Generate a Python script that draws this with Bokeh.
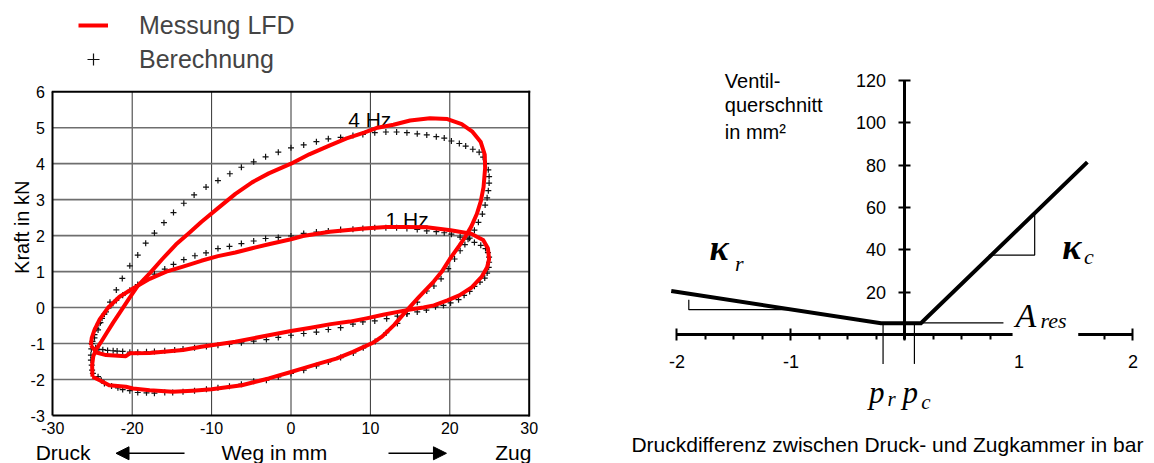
import math
from bokeh.plotting import figure
from bokeh.layouts import row
from bokeh.models import (FixedTicker, Legend, LegendItem, Arrow, NormalHead, BoxAnnotation)
from bokeh.core.properties import value
from bokeh.embed import file_html
from bokeh.resources import INLINE

SANS = "Liberation Sans"
SERIF = "Liberation Serif"

# ---------------- left chart: data ----------------
x_ticks_left = [-30, -20, -10, 0, 10, 20, 30]
y_ticks_left = [-3, -2, -1, 0, 1, 2, 3, 4, 5, 6]
x_grid_left = [-20, -10, 0, 10, 20]
y_grid_left = [-2, -1, 0, 1, 2, 3, 4, 5]
freq_labels = ["4 Hz", "1 Hz"]
legend_labels = ["Messung LFD", "Berechnung"]
bottom_labels = ["Druck", "Weg in mm", "Zug"]

# Messung LFD, 4 Hz (Weg mm, Kraft kN)
mess_4hz = [(-25.0, -1.92), (-25.05, -1.6), (-24.9, -1.35), (-24.5, -1.15), (-23.9, -0.95),
            (-23.2, -0.7), (-22.4, -0.42), (-21.5, -0.12), (-20.4, 0.25), (-19.3, 0.6),
            (-17.8, 0.95), (-16.2, 1.35), (-14.5, 1.75), (-12.8, 2.08), (-11.3, 2.38),
            (-9.15, 2.77), (-7.0, 3.16), (-4.9, 3.48), (-2.8, 3.73), (0.0, 4.0), (2.3, 4.26),
            (4.9, 4.51), (7.0, 4.7), (9.2, 4.86), (10.9, 5.0), (12.9, 5.08), (15.0, 5.2),
            (17.5, 5.26), (19.7, 5.24), (21.5, 5.1), (22.8, 4.9), (23.9, 4.6), (24.4, 4.25),
            (24.45, 3.88), (24.25, 3.35), (23.9, 2.95), (23.4, 2.6), (22.7, 2.25), (21.9, 1.95),
            (21.2, 1.72), (20.0, 1.35), (19.0, 1.0), (18.0, 0.73), (16.1, 0.29), (14.5, -0.1),
            (13.0, -0.48), (11.5, -0.8), (10.4, -0.97), (9.1, -1.1), (7.8, -1.23), (5.7, -1.42),
            (3.5, -1.56), (1.5, -1.69), (0.0, -1.79), (-2.8, -1.97), (-6.2, -2.16),
            (-10.0, -2.27), (-12.4, -2.31), (-14.9, -2.34), (-17.8, -2.3), (-19.9, -2.25),
            (-20.8, -2.2), (-22.9, -2.16), (-24.1, -2.02), (-25.0, -1.92)]

# Messung LFD, 1 Hz
mess_1hz = [(-25.2, -1.05), (-25.1, -0.85), (-24.75, -0.62), (-24.1, -0.33), (-23.1, -0.02),
            (-21.6, 0.3), (-19.9, 0.53), (-17.8, 0.8), (-15.7, 1.0), (-13.6, 1.14),
            (-11.3, 1.3), (-9.2, 1.43), (-7.0, 1.53), (-4.9, 1.65), (-2.8, 1.76), (0.0, 1.9),
            (1.5, 1.99), (4.9, 2.11), (9.2, 2.2), (12.0, 2.24), (14.5, 2.24), (17.1, 2.23),
            (20.1, 2.15), (22.7, 2.05), (24.2, 1.88), (24.8, 1.65), (24.95, 1.35), (24.7, 1.12),
            (24.0, 0.85), (22.7, 0.55), (21.2, 0.34), (19.7, 0.2), (18.0, 0.06), (16.7, 0.0),
            (14.6, -0.07), (11.6, -0.2), (9.5, -0.3), (7.4, -0.39), (5.0, -0.46), (2.5, -0.56),
            (0.0, -0.65), (-2.8, -0.77), (-7.0, -0.95), (-10.0, -1.05), (-11.3, -1.09),
            (-13.6, -1.18), (-17.8, -1.26), (-20.3, -1.27), (-20.8, -1.35), (-23.3, -1.32),
            (-24.5, -1.25), (-25.2, -1.05)]

# Berechnung, 4 Hz (markers)
calc_4hz = [(-25.1, -1.0), (-24.75, -0.84), (-24.3, -0.62), (-24.0, -0.42), (-23.5, -0.18),
            (-22.8, 0.15), (-22.0, 0.49), (-21.25, 0.81), (-20.3, 1.16), (-19.3, 1.46),
            (-18.3, 1.79), (-17.2, 2.07), (-16.0, 2.36), (-14.8, 2.64), (-13.5, 2.9),
            (-12.2, 3.13), (-10.7, 3.35), (-9.2, 3.53), (-7.7, 3.72), (-6.25, 3.9), (-4.7, 4.05),
            (-3.2, 4.19), (-1.6, 4.32), (0.0, 4.44), (1.6, 4.52), (3.2, 4.61), (4.7, 4.69),
            (6.25, 4.73), (7.8, 4.78), (9.05, 4.81), (10.55, 4.86), (11.95, 4.88), (13.3, 4.88),
            (14.6, 4.86), (15.9, 4.83), (17.1, 4.8), (18.3, 4.75), (19.3, 4.71), (20.2, 4.63),
            (21.2, 4.56), (22.0, 4.49), (22.9, 4.4), (23.7, 4.32), (24.2, 4.18), (24.6, 4.0),
            (24.85, 3.83), (24.95, 3.64), (24.95, 3.46), (24.85, 3.25), (24.7, 3.05),
            (24.45, 2.85), (24.1, 2.6), (23.6, 2.37), (23.1, 2.15), (22.5, 1.93), (21.9, 1.75),
            (21.3, 1.58), (20.6, 1.35), (19.8, 1.08), (18.9, 0.8), (18.0, 0.6), (17.1, 0.46),
            (15.9, 0.15), (14.6, -0.17), (13.4, -0.44), (12.0, -0.7), (10.6, -0.94),
            (9.1, -1.12), (7.85, -1.26), (6.25, -1.39), (4.7, -1.51), (3.2, -1.62), (1.6, -1.74),
            (0.0, -1.83), (-1.6, -1.93), (-3.1, -2.02), (-4.7, -2.05), (-6.25, -2.13),
            (-7.75, -2.19), (-9.2, -2.23), (-10.65, -2.27), (-12.15, -2.31), (-13.6, -2.34),
            (-14.9, -2.36), (-15.9, -2.36), (-17.2, -2.38), (-18.2, -2.37), (-19.3, -2.36),
            (-20.3, -2.31), (-21.2, -2.28), (-21.8, -2.23), (-22.6, -2.18), (-23.5, -2.11),
            (-23.9, -2.02), (-24.3, -1.92), (-24.95, -1.83), (-25.05, -1.74), (-25.1, -1.6),
            (-25.2, -1.46), (-25.2, -1.32), (-25.15, -1.15)]

# Berechnung, 1 Hz (markers)
calc_1hz = [(-25.0, -0.94), (-24.75, -0.75), (-24.5, -0.58), (-24.2, -0.44), (-23.8, -0.3),
            (-23.3, -0.12), (-22.7, 0.05), (-22.0, 0.2), (-21.2, 0.34), (-20.3, 0.48),
            (-19.3, 0.64), (-18.3, 0.79), (-17.2, 0.93), (-15.9, 1.07), (-14.8, 1.2),
            (-13.5, 1.33), (-12.1, 1.44), (-10.7, 1.52), (-9.2, 1.64), (-7.75, 1.7),
            (-6.25, 1.78), (-4.7, 1.85), (-3.2, 1.92), (-1.6, 1.95), (0.0, 1.99), (1.6, 2.06),
            (3.2, 2.1), (4.7, 2.13), (6.25, 2.17), (7.8, 2.18), (9.05, 2.2), (10.55, 2.22),
            (11.95, 2.22), (13.3, 2.22), (14.6, 2.2), (15.9, 2.17), (17.1, 2.13), (18.3, 2.11),
            (19.3, 2.08), (20.2, 2.04), (21.3, 1.96), (22.3, 1.9), (23.1, 1.81), (23.9, 1.73),
            (24.5, 1.64), (24.8, 1.53), (24.95, 1.4), (24.95, 1.26), (24.9, 1.12), (24.7, 0.96),
            (24.4, 0.82), (23.8, 0.71), (23.1, 0.59), (22.5, 0.45), (21.8, 0.34), (21.1, 0.22),
            (20.1, 0.13), (19.2, 0.06), (18.2, 0.02), (17.05, -0.07), (15.9, -0.12),
            (14.6, -0.17), (13.4, -0.24), (12.05, -0.31), (10.55, -0.37), (9.05, -0.4),
            (7.8, -0.46), (6.25, -0.56), (4.7, -0.61), (3.2, -0.68), (1.6, -0.72), (0.0, -0.77),
            (-1.6, -0.83), (-3.1, -0.89), (-4.7, -0.93), (-6.25, -0.98), (-7.75, -1.02),
            (-9.2, -1.05), (-10.65, -1.08), (-12.15, -1.12), (-13.6, -1.15), (-14.65, -1.18),
            (-15.9, -1.2), (-17.2, -1.22), (-18.2, -1.23), (-19.3, -1.24), (-20.3, -1.24),
            (-21.2, -1.22), (-21.9, -1.21), (-22.4, -1.2), (-23.1, -1.19), (-23.7, -1.17),
            (-24.2, -1.16), (-24.6, -1.12)]

# ---------------- right chart: data ----------------
x_ticks_right = [-2, -1, 0, 1, 2]
x_minor_right = [-1.75, -1.5, -1.25, -0.75, -0.5, -0.25, 0.25, 0.5, 0.75, 1.25, 1.5, 1.75]
y_ticks_right = [20, 40, 60, 80, 100, 120]
# valve cross-section characteristic (bar, mm^2)
kennlinie_x = [-2.05, -0.21, 0.14, 1.60]
kennlinie_y = [20.5, 5.3, 5.3, 81.4]
# slope triangles / helper lines
slope_r_x = [-1.896, -1.896, -1.015]
slope_r_y = [16.4, 11.7, 11.7]
slope_c_x = [0.736, 1.138, 1.138]
slope_c_y = [37.5, 37.5, 57.0]
ares_x = [0.14, 0.864]
ares_y = [5.5, 5.5]
p_r_value = -0.192
p_c_value = 0.083
y_axis_label_lines = ["Ventil-", "querschnitt", "in mm²"]
x_axis_title = "Druckdifferenz zwischen Druck- und Zugkammer in bar"


def xs(pts):
    return [a for a, _ in pts]


def ys(pts):
    return [b for _, b in pts]


def hyphen_overrides(ticks):
    return {t: str(t) for t in ticks if t < 0}


# ================= left figure =================
# frame = whole figure; the plot box spans x -30..30, y -3..6
p1 = figure(width=580, height=463, x_range=(-36.587, 36.461), y_range=(-4.334, 8.535),
            output_backend="svg", toolbar_location=None, min_border=0)
p1.background_fill_color = "white"
p1.border_fill_color = "white"
p1.outline_line_color = None
p1.grid.visible = False

xa1 = p1.xaxis[0]
ya1 = p1.yaxis[0]
xa1.fixed_location = -3
xa1.bounds = (-30, 30)
xa1.ticker = FixedTicker(ticks=x_ticks_left)
xa1.major_label_overrides = hyphen_overrides(x_ticks_left)
ya1.fixed_location = -30
ya1.bounds = (-3, 6)
ya1.ticker = FixedTicker(ticks=y_ticks_left)
ya1.major_label_overrides = hyphen_overrides(y_ticks_left)
for ax in (xa1, ya1):
    ax.major_tick_in = 0
    ax.major_tick_out = 0
    ax.minor_tick_in = 0
    ax.minor_tick_out = 0
    ax.axis_line_color = "black"
    ax.axis_line_width = 2
    ax.major_label_text_font = SANS
    ax.major_label_text_font_size = "16px"
    ax.major_label_text_color = "black"
xa1.major_label_standoff = 6
ya1.major_label_standoff = 8

# grid lines inside the plot box
p1.segment(x0=x_grid_left, y0=[-3] * len(x_grid_left), x1=x_grid_left,
           y1=[6] * len(x_grid_left), line_color="#333333", line_width=1)
p1.segment(x0=[-30] * len(y_grid_left), y0=y_grid_left, x1=[30] * len(y_grid_left),
           y1=y_grid_left, line_color="#6e6e6e", line_width=1.6)
# top and right edge of the box
p1.segment(x0=[-30, 30], y0=[6, -3], x1=[30, 30], y1=[6, 6], line_color="black",
           line_width=2, line_cap="square")

p1.text(x=[7.2, 11.9], y=[5.22, 2.45], text=freq_labels, text_font=value(SANS),
        text_font_size="21px", text_align="left", text_baseline="middle", text_color="black")

c4 = p1.scatter(xs(calc_4hz), ys(calc_4hz), marker="cross", size=6,
                line_color="#111111", line_width=1.2)
c1 = p1.scatter(xs(calc_1hz), ys(calc_1hz), marker="cross", size=6,
                line_color="#111111", line_width=1.2)
r4 = p1.line(xs(mess_4hz), ys(mess_4hz), line_color="#ff0000", line_width=4,
             line_join="round")
r1 = p1.line(xs(mess_1hz), ys(mess_1hz), line_color="#ff0000", line_width=4,
             line_join="round")

legend = Legend(items=[LegendItem(label=legend_labels[0], renderers=[r4]),
                       LegendItem(label=legend_labels[1], renderers=[c4])],
                location=(78, 389), orientation="vertical",
                border_line_color=None, background_fill_alpha=0,
                padding=0, margin=0, spacing=4,
                glyph_width=30, glyph_height=30, label_standoff=31,
                label_text_font=SANS, label_text_font_size="25px", label_height=30)
p1.add_layout(legend)

p1.text(x=[-33.94], y=[2.234], text=["Kraft in kN"], angle=math.pi / 2,
        text_font=value(SANS), text_font_size="20px", text_align="center",
        text_baseline="middle", text_color="black")
p1.text(x=[-28.7, -2.1, 28.0], y=[-4.028, -4.028, -4.028], text=bottom_labels,
        text_font=value(SANS), text_font_size="21px", text_align="center",
        text_baseline="middle", text_color="black")
p1.add_layout(Arrow(end=NormalHead(size=13, fill_color="black", line_color="black"),
                    x_start=-13.41, y_start=-4.05, x_end=-22.04, y_end=-4.05,
                    line_color="black", line_width=1.5))
p1.add_layout(Arrow(end=NormalHead(size=13, fill_color="black", line_color="black"),
                    x_start=12.28, y_start=-4.05, x_end=19.58, y_end=-4.05,
                    line_color="black", line_width=1.5))

# ================= right figure =================
p2 = figure(width=574, height=463, x_range=(-2.846, 2.189), y_range=(-60.94, 157.77),
            output_backend="svg", toolbar_location=None, min_border=0)
p2.background_fill_color = "white"
p2.border_fill_color = "white"
p2.outline_line_color = None
p2.grid.visible = False

xa = p2.xaxis[0]
xa.fixed_location = 0
xa.bounds = (-2, 2)
xa.ticker = FixedTicker(ticks=x_ticks_right, minor_ticks=x_minor_right)
xa.major_label_overrides = {-2: "-2", -1: "-1", 0: ""}
xa.major_tick_in = 6
xa.major_tick_out = 6
xa.minor_tick_in = 0
xa.minor_tick_out = 5
xa.major_tick_line_width = 2
xa.minor_tick_line_width = 2
xa.major_tick_line_color = "black"
xa.minor_tick_line_color = "black"
xa.axis_line_width = 3
xa.axis_line_color = "black"
xa.major_label_standoff = 15
xa.major_label_text_font = SANS
xa.major_label_text_font_size = "18px"
xa.major_label_text_color = "black"

ya = p2.yaxis[0]
ya.fixed_location = 0
ya.bounds = (-2.3, 120)
ya.ticker = FixedTicker(ticks=y_ticks_right)
ya.major_tick_in = 6
ya.major_tick_out = 6
ya.minor_tick_in = 0
ya.minor_tick_out = 0
ya.major_tick_line_width = 2
ya.major_tick_line_color = "black"
ya.axis_line_width = 3
ya.axis_line_color = "black"
ya.major_label_standoff = 13
ya.major_label_text_font = SANS
ya.major_label_text_font_size = "18px"
ya.major_label_text_color = "black"

# gap in the x axis behind the A_res label
p2.add_layout(BoxAnnotation(left=0.944, right=1.52, bottom=-3.3, top=3.0,
                            fill_color="white", fill_alpha=1, line_color=None,
                            level="overlay"))

p2.line(kennlinie_x, kennlinie_y, line_color="black", line_width=4, line_join="miter")
p2.multi_line(xs=[slope_r_x, slope_c_x, ares_x, [p_r_value, p_r_value], [p_c_value, p_c_value]],
              ys=[slope_r_y, slope_c_y, ares_y, [5.3, -13.9], [5.3, -13.9]],
              line_color="black", line_width=1.2)

# symbols (text anchors are the middle of the text box)
p2.text(x=[-1.715, 1.379], y=[40.9, 41.3], text=["κ", "κ"], text_font=value(SERIF),
        text_font_style="bold italic", text_font_size="36px", text_align="left",
        text_baseline="middle", text_color="black")
p2.text(x=[-1.49, 1.57], y=[33.7, 37.0], text=["r", "c"], text_font=value(SERIF),
        text_font_style="italic", text_font_size="22px", text_align="left",
        text_baseline="middle", text_color="black")
p2.text(x=[0.969], y=[8.9], text=["A"], text_font=value(SERIF),
        text_font_style="italic", text_font_size="34px", text_align="left",
        text_baseline="middle", text_color="black")
p2.text(x=[1.189], y=[6.4], text=["res"], text_font=value(SERIF),
        text_font_style="italic", text_font_size="22px", text_align="left",
        text_baseline="middle", text_color="black")
p2.text(x=[-0.315, -0.022], y=[-27.2, -27.2], text=["p", "p"], text_font=value(SERIF),
        text_font_style="italic", text_font_size="31px", text_align="left",
        text_baseline="middle", text_color="black")
p2.text(x=[-0.154, 0.142], y=[-30.7, -32.1], text=["r", "c"], text_font=value(SERIF),
        text_font_style="italic", text_font_size="21px", text_align="left",
        text_baseline="middle", text_color="black")

p2.text(x=[-1.58, -1.58, -1.58], y=[119.7, 108.6, 95.7], text=y_axis_label_lines,
        text_font=value(SANS), text_font_size="20px", text_align="left",
        text_baseline="middle", text_color="black")
p2.text(x=[-0.154], y=[-52.2], text=[x_axis_title], text_font=value(SANS),
        text_font_size="21px", text_align="center", text_baseline="middle",
        text_color="black")

layout = row(p1, p2)
open("out.html", "w").write(file_html(layout, INLINE))
